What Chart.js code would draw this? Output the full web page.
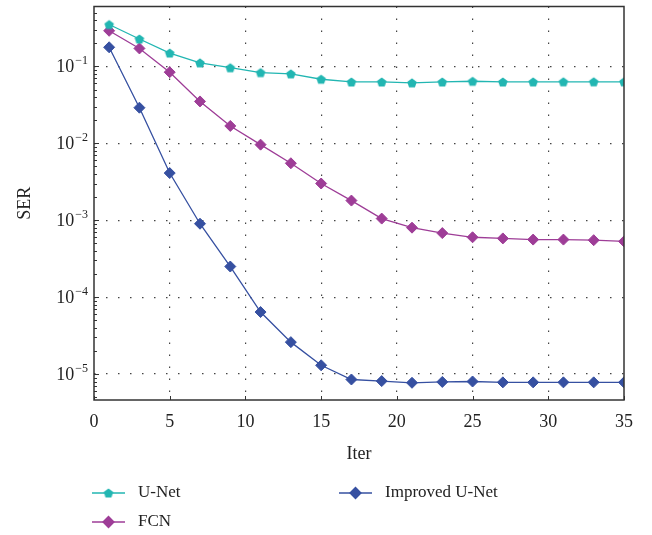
<!DOCTYPE html>
<html>
<head>
<meta charset="utf-8">
<script src="https://cdn.jsdelivr.net/npm/chart.js@4.4.0/dist/chart.umd.min.js"></script>
<style>
  html, body { margin: 0; padding: 0; background: #fff; }
  #wrap { width: 652px; height: 535px; position: relative; }
</style>
</head>
<body>
<div id="wrap"><canvas id="serChart" width="652" height="535"></canvas></div>
<script>
// --- dados ---
const iters = [1, 3, 5, 7, 9, 11, 13, 15, 17, 19, 21, 23, 25, 27, 29, 31, 33, 35];
const serUNet = [0.35, 0.227, 0.149, 0.111, 0.096, 0.083, 0.080, 0.068, 0.0627, 0.0627,
                 0.061, 0.0627, 0.064, 0.0627, 0.0628, 0.063, 0.063, 0.063];
const serFCN = [0.29, 0.171, 0.084, 0.035, 0.0168, 0.0096, 0.0055, 0.0030, 0.0018, 0.00105,
                0.00080, 0.00068, 0.00060, 0.00058, 0.00056, 0.00056, 0.00055, 0.00053];
const serImproved = [0.177, 0.029, 0.0041, 0.0009, 0.00025, 6.4e-5, 2.6e-5, 1.3e-5, 8.5e-6, 8.1e-6,
                     7.7e-6, 7.9e-6, 8.0e-6, 7.8e-6, 7.8e-6, 7.8e-6, 7.8e-6, 7.8e-6];
const xTicks = [0, 5, 10, 15, 20, 25, 30, 35];
const yDecades = [1e-5, 1e-4, 1e-3, 1e-2, 1e-1];
const seriesNames = ['U-Net', 'FCN', 'Improved U-Net'];

const corCiano = '#22b6b2';
const corMagenta = '#9e3d97';
const corAzul = '#3650a1';
const fonte = "'Liberation Serif', 'DejaVu Serif', serif";

// marcador pentágono (não existe no Chart.js)
function makePentagon(color, r) {
    const s = Math.ceil(r * 2 + 2);
    const c = document.createElement('canvas');
    c.width = s; c.height = s;
    const g = c.getContext('2d');
    g.fillStyle = color;
    g.beginPath();
    for (let i = 0; i < 5; i++) {
        const a = -Math.PI / 2 + i * 2 * Math.PI / 5;
        g.lineTo(s / 2 + r * Math.cos(a), s / 2 + r * Math.sin(a) + 0.5);
    }
    g.closePath();
    g.fill();
    return c;
}
const pentagono = makePentagon(corCiano, 5);

function pontos(vals) {
    return iters.map((x, i) => ({ x: x, y: vals[i] }));
}

// minor ticks do eixo log
function logTicks(min, max) {
    const out = [];
    for (let e = -6; e <= 0; e++) {
        for (let m = 1; m <= 9; m++) {
            const v = m * Math.pow(10, e);
            if (v >= min && v <= max) out.push({ value: v, major: m === 1 });
        }
    }
    return out;
}

// moldura, marcas internas, rótulos 10^n e legenda
const molduraPlugin = {
    id: 'moldura',
    afterDraw(chart) {
        const ctx = chart.ctx;
        const a = chart.chartArea;
        const xs = chart.scales.x, ys = chart.scales.y;
        ctx.save();
        ctx.strokeStyle = '#333';
        ctx.lineWidth = 1;
        ys.ticks.forEach(t => {
            const y = Math.round(ys.getPixelForValue(t.value)) + 0.5;
            const len = t.major ? 5 : 3;
            ctx.beginPath(); ctx.moveTo(a.left, y); ctx.lineTo(a.left + len, y); ctx.stroke();
        });
        xTicks.forEach(v => {
            const x = Math.round(xs.getPixelForValue(v)) + 0.5;
            ctx.beginPath(); ctx.moveTo(x, a.bottom); ctx.lineTo(x, a.bottom - 4); ctx.stroke();
        });
        ctx.lineWidth = 1.5;
        ctx.strokeRect(a.left, a.top, a.right - a.left, a.bottom - a.top);

        // rótulos do eixo y com expoente
        ctx.fillStyle = '#222';
        ctx.textBaseline = 'alphabetic';
        ctx.textAlign = 'left';
        yDecades.forEach(d => {
            const y = ys.getPixelForValue(d);
            const expo = '\u2212' + String(-Math.round(Math.log10(d)));
            ctx.font = '12px ' + fonte;
            const we = ctx.measureText(expo).width;
            ctx.font = '18px ' + fonte;
            const wb = ctx.measureText('10').width;
            const xr = a.left - 6;
            ctx.fillText('10', xr - we - wb - 1, y + 6);
            ctx.font = '12px ' + fonte;
            ctx.fillText(expo, xr - we, y - 2);
        });

        // legenda em duas colunas
        const itens = [
            { ds: 0, x: 92, y: 493 },
            { ds: 2, x: 339, y: 493 },
            { ds: 1, x: 92, y: 522 }
        ];
        itens.forEach(it => {
            const d = chart.data.datasets[it.ds];
            ctx.strokeStyle = d.borderColor;
            ctx.fillStyle = d.pointBackgroundColor;
            ctx.lineWidth = 1.3;
            ctx.beginPath(); ctx.moveTo(it.x, it.y); ctx.lineTo(it.x + 33, it.y); ctx.stroke();
            Chart.helpers.drawPoint(ctx, {
                pointStyle: d.pointStyle, radius: d.pointRadius, rotation: 0, borderWidth: 1
            }, it.x + 16.5, it.y);
            ctx.fillStyle = '#222';
            ctx.font = '17px ' + fonte;
            ctx.textBaseline = 'middle';
            ctx.textAlign = 'left';
            ctx.fillText(d.label, it.x + 46, it.y);
        });
        ctx.restore();
    }
};

const ctx = document.getElementById('serChart').getContext('2d');
new Chart(ctx, {
    type: 'line',
    data: {
        datasets: [
            {
                label: seriesNames[0],
                data: pontos(serUNet),
                borderColor: corCiano,
                backgroundColor: corCiano,
                pointBackgroundColor: corCiano,
                pointBorderColor: corCiano,
                pointStyle: pentagono,
                pointRadius: 5,
                borderWidth: 1.3
            },
            {
                label: seriesNames[1],
                data: pontos(serFCN),
                borderColor: corMagenta,
                backgroundColor: corMagenta,
                pointBackgroundColor: corMagenta,
                pointBorderColor: corMagenta,
                pointStyle: 'rectRot',
                pointRadius: 5.5,
                pointBorderWidth: 1,
                borderWidth: 1.3
            },
            {
                label: seriesNames[2],
                data: pontos(serImproved),
                borderColor: corAzul,
                backgroundColor: corAzul,
                pointBackgroundColor: corAzul,
                pointBorderColor: corAzul,
                pointStyle: 'rectRot',
                pointRadius: 5.5,
                pointBorderWidth: 1,
                borderWidth: 1.3
            }
        ]
    },
    options: {
        responsive: false,
        animation: false,
        devicePixelRatio: 1,
        layout: { padding: { left: 0, top: 6, right: 28, bottom: 70 } },
        plugins: {
            legend: { display: false },
            tooltip: { enabled: false }
        },
        scales: {
            x: {
                type: 'linear',
                min: 0,
                max: 35,
                afterBuildTicks: s => { s.ticks = xTicks.map(v => ({ value: v })); },
                afterFit: s => { s.height = 65; },
                ticks: { color: '#222', font: { family: fonte, size: 18 }, padding: 11 },
                grid: {
                    drawTicks: false,
                    color: c => (c.tick && (c.tick.value === 0 || c.tick.value === 35)) ? 'rgba(0,0,0,0)' : '#444',
                    lineWidth: 1.2
                },
                border: { display: false, dash: [1.5, 10.5] },
                title: { display: true, text: 'Iter', color: '#222', font: { family: fonte, size: 18 }, padding: { top: 4, bottom: 0 } }
            },
            y: {
                type: 'logarithmic',
                min: 4.6e-6,
                max: 0.6,
                afterBuildTicks: s => { s.ticks = logTicks(s.min, s.max); },
                afterFit: s => { s.width = 94; },
                ticks: { display: false, autoSkip: false },
                grid: {
                    drawTicks: false,
                    color: c => (c.tick && c.tick.major) ? '#444' : 'rgba(0,0,0,0)',
                    lineWidth: 1.2
                },
                border: { display: false, dash: [1.5, 10.5] },
                title: { display: true, text: 'SER', color: '#222', font: { family: fonte, size: 18 }, padding: { top: 14, bottom: 0 } }
            }
        }
    },
    plugins: [molduraPlugin]
});
</script>
</body>
</html>
